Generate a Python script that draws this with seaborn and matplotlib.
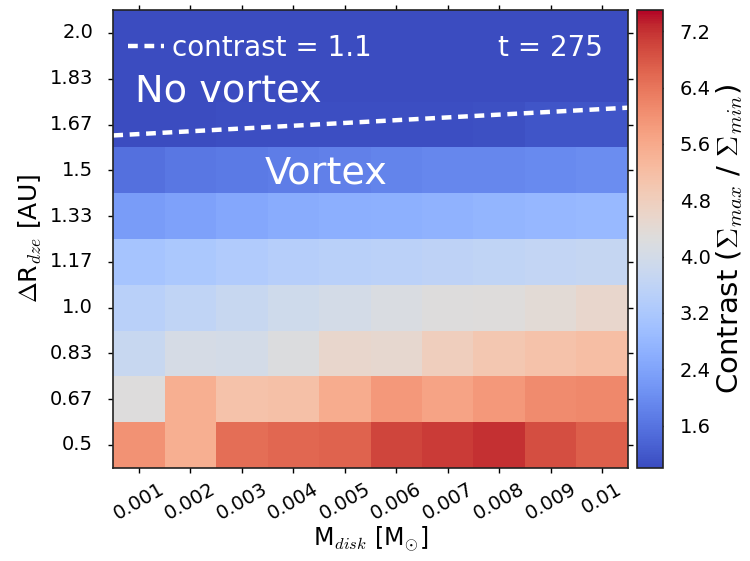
import numpy as np
import pandas as pd
import matplotlib
matplotlib.use("Agg")
import matplotlib.pyplot as plt
import seaborn as sns

# ---------- DATA ----------
mdisk_labels = ["0.001", "0.002", "0.003", "0.004", "0.005",
                "0.006", "0.007", "0.008", "0.009", "0.01"]
dr_labels = ["0.5", "0.67", "0.83", "1.0", "1.17", "1.33", "1.5", "1.67", "1.83", "2.0"]
dr_values = [0.5, 0.667, 0.833, 1.0, 1.167, 1.333, 1.5, 1.667, 1.833, 2.0]

# contrast per row, listed from dR = 0.5 (bottom) to dR = 2.0 (top)
row_050 = [6.0, 5.5, 6.5, 6.6, 6.65, 7.0, 7.1, 7.2, 6.9, 6.7]
row_067 = [4.25, 5.5, 5.1, 5.15, 5.55, 5.9, 5.7, 5.9, 6.1, 6.15]
row_083 = [3.75, 4.05, 4.0, 4.2, 4.55, 4.5, 4.8, 5.0, 5.1, 5.2]
row_100 = [3.45, 3.6, 3.75, 3.9, 4.0, 4.15, 4.25, 4.3, 4.4, 4.55]
row_117 = [3.1, 3.2, 3.3, 3.4, 3.45, 3.5, 3.55, 3.6, 3.65, 3.7]
row_133 = [2.25, 2.35, 2.45, 2.55, 2.6, 2.65, 2.7, 2.75, 2.8, 2.85]
row_150 = [1.55, 1.65, 1.7, 1.75, 1.8, 1.85, 1.9, 1.9, 1.95, 2.0]
row_167 = [1.02, 1.02, 1.03, 1.03, 1.04, 1.04, 1.05, 1.06, 1.15, 1.15]
row_183 = [1.0, 1.0, 1.0, 1.0, 1.0, 1.0, 1.0, 1.0, 1.0, 1.0]
row_200 = [1.0, 1.0, 1.0, 1.0, 1.0, 1.0, 1.0, 1.0, 1.0, 1.0]

# contrast = 1.1 boundary (dR at left and right edge of the grid)
boundary_dr = [1.627, 1.728]

cbar_ticks = [1.6, 2.4, 3.2, 4.0, 4.8, 5.6, 6.4, 7.2]
vmin, vmax = 1.0, 7.5

rows = [row_050, row_067, row_083, row_100, row_117,
        row_133, row_150, row_167, row_183, row_200]
df = pd.DataFrame(rows[::-1], index=dr_labels[::-1], columns=mdisk_labels)

# ---------- PLOT ----------
sns.set_style("white")
plt.rcParams["font.family"] = ["DejaVu Sans"]
plt.rcParams["mathtext.fontset"] = "cm"
plt.rcParams["text.color"] = "black"
plt.rcParams["axes.labelcolor"] = "black"
plt.rcParams["xtick.color"] = "black"
plt.rcParams["ytick.color"] = "black"

fig = plt.figure(figsize=(7.5, 5.61), dpi=100)
ax = fig.add_axes([0.151, 0.166, 0.686, 0.816])
cax = fig.add_axes([0.849, 0.166, 0.035, 0.816])

sns.heatmap(df, ax=ax, cbar_ax=cax, cmap="coolwarm", vmin=vmin, vmax=vmax,
            cbar_kws={"ticks": cbar_ticks})

# boundary line, mapped from dR to heatmap row coordinates (top row = 0)
step = (dr_values[-1] - dr_values[0]) / (len(dr_values) - 1)
by = [(dr_values[-1] - d) / step + 0.5 for d in boundary_dr]
ax.plot([0, len(mdisk_labels)], by, color="white", lw=3.2,
        dashes=(2.2, 1.5), label="contrast = 1.1")

leg = ax.legend(loc="upper left", frameon=False, fontsize=20,
                handlelength=1.3, handletextpad=0.3,
                bbox_to_anchor=(-0.02, 1.003))
for t in leg.get_texts():
    t.set_color("white")

ax.text(0.952, 0.918, "t = 275", transform=ax.transAxes, color="white",
        fontsize=20, ha="right", va="center")
ax.text(0.043, 0.823, "No vortex", transform=ax.transAxes, color="white",
        fontsize=27.5, ha="left", va="center")
ax.text(0.295, 0.642, "Vortex", transform=ax.transAxes, color="white",
        fontsize=27.5, ha="left", va="center")

for s in ax.spines.values():
    s.set_visible(True)
    s.set_color("#222222")
    s.set_linewidth(1.2)

ax.tick_params(axis="both", which="major", direction="inout", length=7,
               width=1, color="black", labelsize=14, labelcolor="black",
               top=True, right=True, bottom=True, left=True)
ax.tick_params(axis="y", pad=11)
ax.tick_params(axis="x", pad=5)
ax.set_xticklabels(mdisk_labels, rotation=30, ha="center")
ax.set_yticklabels(dr_labels[::-1], rotation=0)

ax.set_xlabel(r"M$_{disk}$ [M$_{\odot}$]", fontsize=17, labelpad=1)
ax.set_ylabel(r"$\Delta$R$_{dze}$ [AU]", fontsize=18, labelpad=4)

cbar = ax.collections[0].colorbar
cbar.outline.set_visible(True)
cbar.outline.set_edgecolor("#222222")
cbar.outline.set_linewidth(1.2)
cax.tick_params(direction="in", length=5, width=1, labelsize=14,
                color="black", labelcolor="black", pad=12)
cbar.set_ticklabels([f"{t:.1f}" for t in cbar_ticks])
cbar.set_label(r"Contrast ($\Sigma_{max}$ / $\Sigma_{min}$)", fontsize=21, labelpad=2)

fig.savefig("out.png", dpi=100)
